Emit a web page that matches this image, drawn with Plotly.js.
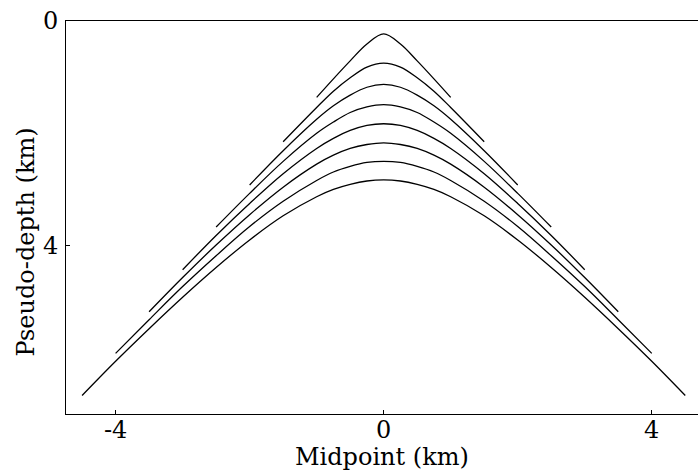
<!DOCTYPE html>
<html>
<head>
<meta charset="utf-8">
<script src="https://cdn.plot.ly/plotly-3.0.1.min.js"></script>
<style>
html,body{margin:0;padding:0;background:#fff;overflow:hidden;}
#chart{width:698px;height:476px;}
</style>
</head>
<body>
<div id="chart"></div>
<script>
// Midpoint positions (km)
var midpoint = [-4.5,-4,-3.5,-3,-2.5,-2,-1.5,-1,-0.75,-0.5,-0.25,0,0.25,0.5,0.75,1,1.5,2,2.5,3,3.5,4,4.5];

// Pseudo-depth (km) of each curve (null = not drawn)
var curve1 = [null,null,null,null,null,null,null,1.36,1.03,0.71,0.41,0.23,0.41,0.71,1.03,1.36,null,null,null,null,null,null,null];
var curve2 = [null,null,null,null,null,null,2.15,1.54,1.25,1.01,0.82,0.75,0.82,1.01,1.25,1.54,2.15,null,null,null,null,null,null];
var curve3 = [null,null,null,null,null,2.92,2.31,1.75,1.51,1.32,1.18,1.13,1.18,1.32,1.51,1.75,2.31,2.92,null,null,null,null,null];
var curve4 = [null,null,null,null,3.67,3.07,2.50,2.00,1.80,1.63,1.53,1.49,1.53,1.63,1.80,2.00,2.50,3.07,3.67,null,null,null,null];
var curve5 = [null,null,null,4.43,3.82,3.25,2.72,2.27,2.09,1.95,1.86,1.83,1.86,1.95,2.09,2.27,2.72,3.25,3.82,4.43,null,null,null];
var curve6 = [null,null,5.18,4.57,3.99,3.45,2.96,2.55,2.39,2.27,2.20,2.17,2.20,2.27,2.39,2.55,2.96,3.45,3.99,4.57,5.18,null,null];
var curve7 = [null,5.92,5.32,4.73,4.18,3.66,3.21,2.84,2.69,2.59,2.52,2.50,2.52,2.59,2.69,2.84,3.21,3.66,4.18,4.73,5.32,5.92,null];
var curve8 = [6.67,6.06,5.48,4.92,4.39,3.90,3.47,3.13,3.00,2.91,2.85,2.83,2.85,2.91,3.00,3.13,3.47,3.90,4.39,4.92,5.48,6.06,6.67];

var curves = [curve1,curve2,curve3,curve4,curve5,curve6,curve7,curve8];

var xTicks = [-4,0,4];
var xTickText = ['-4','0','4'];
var yTicks = [0,4];
var yTickText = ['0','4'];
var xTitle = 'Midpoint (km)';
var yTitle = 'Pseudo-depth (km)';

var traces = curves.map(function(c){
  return {
    x: midpoint, y: c, type: 'scatter', mode: 'lines',
    line: {color: '#000', width: 1.3, shape: 'spline', smoothing: 1},
    connectgaps: false, hoverinfo: 'skip', showlegend: false
  };
});

var font = 'DejaVu Serif';
var titleSize = 24;
var tickSize = 24;

var annotations = [
  {text: xTitle, xref: 'paper', yref: 'paper', x: 0.5, y: 0, yshift: -43,
   xanchor: 'center', yanchor: 'middle', showarrow: false,
   font: {family: font, size: titleSize, color: '#000'}},
  {text: yTitle, xref: 'paper', yref: 'paper', x: 0, y: 0.5, xshift: -41, yshift: -25,
   xanchor: 'center', yanchor: 'middle', showarrow: false, textangle: -90,
   font: {family: font, size: titleSize, color: '#000'}}
];
xTicks.forEach(function(v, i){
  annotations.push({text: xTickText[i], xref: 'x', yref: 'paper', x: v, y: 0, yshift: -16,
    xanchor: 'center', yanchor: 'middle', showarrow: false,
    font: {family: font, size: tickSize, color: '#000'}});
});
yTicks.forEach(function(v, i){
  annotations.push({text: yTickText[i], xref: 'paper', yref: 'y', x: 0, y: v, xshift: -6,
    xanchor: 'right', yanchor: 'middle', showarrow: false,
    font: {family: font, size: tickSize, color: '#000'}});
});

var layout = {
  width: 698, height: 476,
  margin: {l: 66, r: 0, t: 21, b: 62, pad: 0},
  paper_bgcolor: '#fff', plot_bgcolor: '#fff',
  font: {family: font, color: '#000', size: tickSize},
  showlegend: false,
  xaxis: {
    range: [-4.74, 4.69],
    tickvals: xTicks, ticktext: xTickText, showticklabels: false,
    ticks: 'inside', ticklen: 4, tickcolor: '#000', tickwidth: 1,
    showgrid: false, zeroline: false,
    showline: true, linecolor: '#000', linewidth: 1, mirror: true
  },
  yaxis: {
    range: [7, 0],
    tickvals: yTicks, ticktext: yTickText, showticklabels: false,
    ticks: 'inside', ticklen: 4, tickcolor: '#000', tickwidth: 1,
    showgrid: false, zeroline: false,
    showline: true, linecolor: '#000', linewidth: 1, mirror: true
  },
  annotations: annotations
};

Plotly.newPlot('chart', traces, layout, {staticPlot: true, displayModeBar: false});
</script>
</body>
</html>
